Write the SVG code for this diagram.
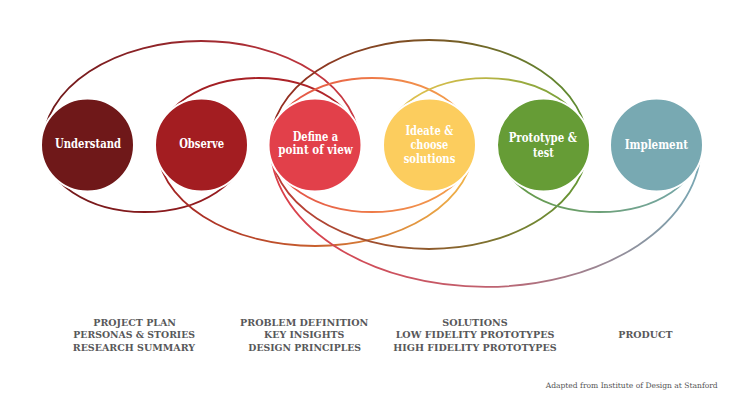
<svg xmlns="http://www.w3.org/2000/svg" width="745" height="409" viewBox="0 0 745 409">
<style>
.arc{fill:none;stroke-width:1.8}
.node circle{stroke:#fff;stroke-width:2}
.lbl{font-family:"DejaVu Serif","Liberation Serif",serif;font-weight:bold;font-size:12.5px;fill:#fff;text-anchor:middle}
.cap{font-family:"DejaVu Serif","Liberation Serif",serif;font-weight:bold;font-size:10px;fill:#58585a;text-anchor:middle}
.credit{font-family:"DejaVu Serif","Liberation Serif",serif;font-size:7.5px;fill:#555;text-anchor:middle}
</style>
<defs>
<linearGradient id="gAt" gradientUnits="userSpaceOnUse" x1="43" y1="0" x2="359.5" y2="0"><stop offset="0" stop-color="#6e1819"/><stop offset="1" stop-color="#cc3a44"/></linearGradient>
<linearGradient id="gAb" gradientUnits="userSpaceOnUse" x1="43" y1="0" x2="246" y2="0"><stop offset="0" stop-color="#6e1819"/><stop offset="1" stop-color="#9c1c20"/></linearGradient>
<linearGradient id="gBt" gradientUnits="userSpaceOnUse" x1="157" y1="0" x2="359.5" y2="0"><stop offset="0" stop-color="#9c1c20"/><stop offset="1" stop-color="#b4262c"/></linearGradient>
<linearGradient id="gBb" gradientUnits="userSpaceOnUse" x1="157" y1="0" x2="473.5" y2="0"><stop offset="0" stop-color="#a01e22"/><stop offset="0.5" stop-color="#c8602e"/><stop offset="1" stop-color="#f2b64a"/></linearGradient>
<linearGradient id="gCt" gradientUnits="userSpaceOnUse" x1="270.5" y1="0" x2="587.5" y2="0"><stop offset="0" stop-color="#962a20"/><stop offset="0.5" stop-color="#7a5424"/><stop offset="1" stop-color="#5e9032"/></linearGradient>
<linearGradient id="gCb" gradientUnits="userSpaceOnUse" x1="270.5" y1="0" x2="587.5" y2="0"><stop offset="0" stop-color="#c03a36"/><stop offset="0.5" stop-color="#8e5a2c"/><stop offset="1" stop-color="#649a34"/></linearGradient>
<linearGradient id="gD" gradientUnits="userSpaceOnUse" x1="270.5" y1="0" x2="473.5" y2="0"><stop offset="0" stop-color="#e04a46"/><stop offset="0.5" stop-color="#ee7a48"/><stop offset="1" stop-color="#f4a64e"/></linearGradient>
<linearGradient id="gEt" gradientUnits="userSpaceOnUse" x1="384.5" y1="0" x2="587.5" y2="0"><stop offset="0" stop-color="#ecc452"/><stop offset="0.5" stop-color="#b8b444"/><stop offset="1" stop-color="#669a36"/></linearGradient>
<linearGradient id="gFb" gradientUnits="userSpaceOnUse" x1="498.5" y1="0" x2="701" y2="0"><stop offset="0" stop-color="#62983c"/><stop offset="1" stop-color="#78a8b2"/></linearGradient>
<linearGradient id="gGb" gradientUnits="userSpaceOnUse" x1="270.5" y1="0" x2="701" y2="0"><stop offset="0" stop-color="#dc3e48"/><stop offset="0.5" stop-color="#c0606e"/><stop offset="1" stop-color="#78a8b4"/></linearGradient>
</defs>
<rect width="745" height="409" fill="#fff"/>
<g id="connectors">
<path class="arc" stroke="url(#gAt)" d="M43,145 A158.25 104 0 0 1 359.5,145"/>
<path class="arc" stroke="url(#gAb)" d="M43,145 A101.5 67 0 0 0 246,145"/>
<path class="arc" stroke="url(#gBt)" d="M157,145 A101.25 67 0 0 1 359.5,145"/>
<path class="arc" stroke="url(#gBb)" d="M157,145 A158.25 101 0 0 0 473.5,145"/>
<path class="arc" stroke="url(#gCt)" d="M270.5,145 A158.5 105 0 0 1 587.5,145"/>
<path class="arc" stroke="url(#gCb)" d="M270.5,145 A158.5 104 0 0 0 587.5,145"/>
<path class="arc" stroke="url(#gD)" d="M270.5,145 A101.5 67 0 0 1 473.5,145"/>
<path class="arc" stroke="url(#gD)" d="M270.5,145 A101.5 67 0 0 0 473.5,145"/>
<path class="arc" stroke="url(#gEt)" d="M384.5,145 A101.5 67 0 0 1 587.5,145"/>
<path class="arc" stroke="url(#gFb)" d="M498.5,145 A101.25 67 0 0 0 701,145"/>
<path class="arc" stroke="url(#gGb)" d="M270.5,145 A215.25 142 0 0 0 701,145"/>
</g>
<g id="understand" class="node"><circle cx="87.5" cy="145" r="46.5" fill="#6f1819"/><text class="lbl" x="88" y="148" textLength="66" lengthAdjust="spacingAndGlyphs">Understand</text></g>
<g id="observe" class="node"><circle cx="201.5" cy="145" r="46.5" fill="#a31d21"/><text class="lbl" x="201.7" y="148" textLength="45" lengthAdjust="spacingAndGlyphs">Observe</text></g>
<g id="define" class="node"><circle cx="315" cy="145" r="46.5" fill="#e2404a"/><text class="lbl" x="315.5" y="140.7" textLength="45.5" lengthAdjust="spacingAndGlyphs">Define a</text><text class="lbl" x="315.5" y="154.3" textLength="74.5" lengthAdjust="spacingAndGlyphs">point of view</text></g>
<g id="ideate" class="node"><circle cx="429.5" cy="145" r="46.5" fill="#fccd5e"/><text class="lbl" x="429.3" y="135" textLength="47.7" lengthAdjust="spacingAndGlyphs">Ideate &amp;</text><text class="lbl" x="429.3" y="149.3" textLength="37.7" lengthAdjust="spacingAndGlyphs">choose</text><text class="lbl" x="429.5" y="163.3" textLength="51.7" lengthAdjust="spacingAndGlyphs">solutions</text></g>
<g id="prototype" class="node"><circle cx="543.5" cy="145" r="46.5" fill="#669c36"/><text class="lbl" x="542.8" y="142.3" textLength="68.3" lengthAdjust="spacingAndGlyphs">Prototype &amp;</text><text class="lbl" x="543.3" y="156.7" textLength="20.7" lengthAdjust="spacingAndGlyphs">test</text></g>
<g id="implement" class="node"><circle cx="656.5" cy="145" r="46.5" fill="#78a9b2"/><text class="lbl" x="656.3" y="149" textLength="63.3" lengthAdjust="spacingAndGlyphs">Implement</text></g>
<g id="labels">
<text class="cap" x="134.7" y="325.7" textLength="82.7" lengthAdjust="spacingAndGlyphs">PROJECT PLAN</text>
<text class="cap" x="134.2" y="338.3" textLength="121.7" lengthAdjust="spacingAndGlyphs">PERSONAS &amp; STORIES</text>
<text class="cap" x="133.9" y="350.5" textLength="122.3" lengthAdjust="spacingAndGlyphs">RESEARCH SUMMARY</text>
<text class="cap" x="304.2" y="325.7" textLength="128.3" lengthAdjust="spacingAndGlyphs">PROBLEM DEFINITION</text>
<text class="cap" x="304.2" y="338.3" textLength="80.3" lengthAdjust="spacingAndGlyphs">KEY INSIGHTS</text>
<text class="cap" x="304.7" y="350.5" textLength="112.7" lengthAdjust="spacingAndGlyphs">DESIGN PRINCIPLES</text>
<text class="cap" x="475" y="325.7" textLength="65.3" lengthAdjust="spacingAndGlyphs">SOLUTIONS</text>
<text class="cap" x="475" y="338.3" textLength="158.7" lengthAdjust="spacingAndGlyphs">LOW FIDELITY PROTOTYPES</text>
<text class="cap" x="475" y="350.5" textLength="163.3" lengthAdjust="spacingAndGlyphs">HIGH FIDELITY PROTOTYPES</text>
<text class="cap" x="645.5" y="338.3" textLength="54.3" lengthAdjust="spacingAndGlyphs">PRODUCT</text>
<text class="credit" x="631.7" y="387.7" textLength="172" lengthAdjust="spacingAndGlyphs">Adapted from Institute of Design at Stanford</text>
</g>
</svg>
